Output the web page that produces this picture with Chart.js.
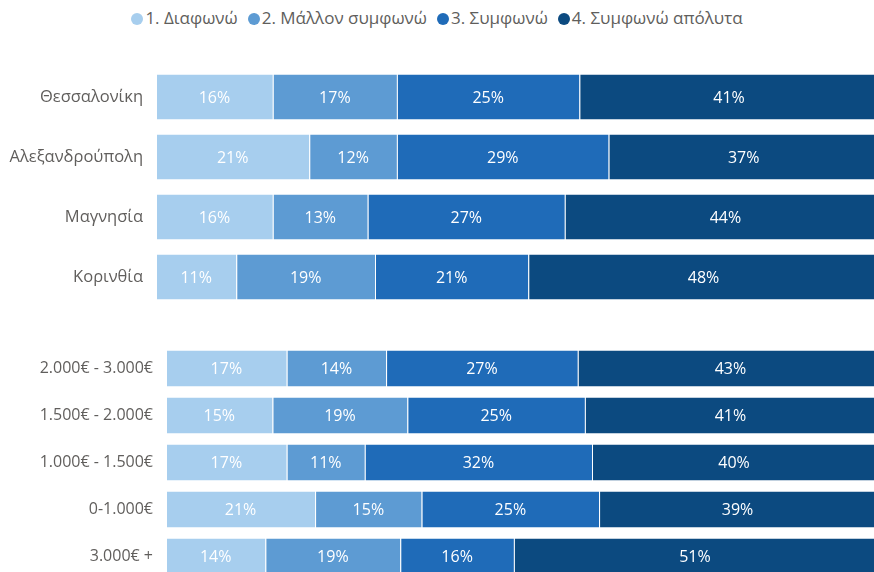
<!DOCTYPE html>
<html>
<head>
<meta charset="utf-8">
<script src="https://cdn.jsdelivr.net/npm/chart.js@4.4.1/dist/chart.umd.min.js"></script>
<style>
  html, body { margin: 0; padding: 0; background: #fff; overflow: hidden; width: 874px; height: 572px; position: relative; }
  #legend { position: absolute; top: 6px; left: 0; width: 874px; text-align: center;
    font-family: "Open Sans", sans-serif; font-size: 17px; color: #605E5C; white-space: nowrap; }
  #legend span.item { margin: 0 5px; }
  #legend span.dot { display: inline-block; width: 12px; height: 12px; border-radius: 50%; margin-right: 2px; vertical-align: -1px; }
  canvas { position: absolute; left: 0; }
  #regions { top: 67px; }
  #income { top: 345px; }
</style>
</head>
<body>
<div id="legend"></div>
<canvas id="regions" width="886" height="240"></canvas>
<canvas id="income" width="876" height="235"></canvas>
<script>
const seriesNames = ["1. Διαφωνώ", "2. Μάλλον συμφωνώ", "3. Συμφωνώ", "4. Συμφωνώ απόλυτα"]
const colors = ["#A7CEEE", "#5D9BD3", "#1F6BB8", "#0C4A80"]

const regions = ["Θεσσαλονίκη", "Αλεξανδρούπολη", "Μαγνησία", "Κορινθία"]
const regDisagree = [16, 21, 16, 11]
const regRather = [17, 12, 13, 19]
const regAgree = [25, 29, 27, 21]
const regFully = [41, 37, 44, 48]

const incomes = ["2.000€ - 3.000€", "1.500€ - 2.000€", "1.000€ - 1.500€", "0-1.000€", "3.000€ +"]
const incDisagree = [17, 15, 17, 21, 14]
const incRather = [14, 19, 11, 15, 19]
const incAgree = [27, 25, 32, 25, 16]
const incFully = [43, 41, 40, 39, 51]

// html legend, same look as the power bi one
const legend = document.getElementById("legend")
seriesNames.forEach((n, i) => {
  legend.innerHTML += `<span class="item"><span class="dot" style="background:${colors[i]}"></span>${n}</span>`
})

// draws the % in the middle of every segment
const barLabels = {
  id: "barLabels",
  afterDatasetsDraw(chart) {
    const ctx = chart.ctx
    ctx.save()
    ctx.font = "16px 'Open Sans', sans-serif"
    ctx.fillStyle = "#fff"
    ctx.textAlign = "center"
    ctx.textBaseline = "middle"
    chart.data.datasets.forEach((ds, i) => {
      chart.getDatasetMeta(i).data.forEach((bar, j) => {
        const x = (bar.x + bar.base) / 2
        ctx.fillText(ds.data[j] + "%", x, bar.y + 1)
      })
    })
    ctx.restore()
  }
}

function makeChart(id, labels, values, axisWidth, barPct, fontSize) {
  return new Chart(document.getElementById(id), {
    type: "bar",
    data: {
      labels: labels,
      datasets: values.map((v, i) => ({
        label: seriesNames[i],
        data: v,
        backgroundColor: colors[i],
        borderColor: "rgba(255,255,255,0.2)",
        borderWidth: { left: 1 },
        borderSkipped: false,
        barPercentage: barPct,
        categoryPercentage: 1
      }))
    },
    options: {
      indexAxis: "y",
      responsive: false,
      animation: false,
      layout: { padding: 0 },
      plugins: { legend: { display: false }, tooltip: { enabled: false } },
      scales: {
        x: { stacked: true, min: 0, max: 100, display: false },
        y: {
          stacked: true,
          grid: { display: false, drawTicks: false },
          border: { display: false },
          ticks: { padding: 13, color: "#605E5C", font: { family: "'Open Sans', sans-serif", size: fontSize } },
          afterFit: (scale) => {
            scale.width = axisWidth
            // no extra room above/below the first and last label
            scale.paddingTop = 0
            scale.paddingBottom = 0
          }
        }
      }
    },
    plugins: [barLabels]
  })
}

makeChart("regions", regions, [regDisagree, regRather, regAgree, regFully], 156, 0.75, 16.5)
makeChart("income", incomes, [incDisagree, incRather, incAgree, incFully], 166, 0.766, 16)
</script>
</body>
</html>
